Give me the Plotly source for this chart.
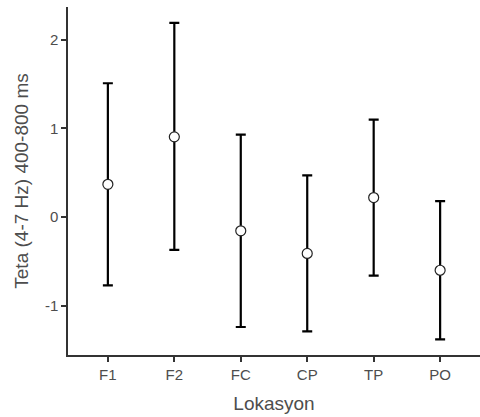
import plotly.graph_objects as go

locations = ["F1", "F2", "FC", "CP", "TP", "PO"]
means = [0.37, 0.905, -0.155, -0.41, 0.22, -0.60]
upper = [1.51, 2.19, 0.93, 0.47, 1.10, 0.18]
lower = [-0.77, -0.37, -1.24, -1.29, -0.66, -1.38]

xpos = list(range(1, len(locations) + 1))
err_plus = [u - m for u, m in zip(upper, means)]
err_minus = [m - l for m, l in zip(means, lower)]

fig = go.Figure()
fig.add_trace(go.Scatter(
    x=xpos, y=means, mode="markers",
    marker=dict(symbol="circle", size=10, color="white",
                line=dict(color="#222222", width=1.2)),
    error_y=dict(type="data", symmetric=False, array=err_plus, arrayminus=err_minus,
                 color="black", thickness=2.2, width=5),
    showlegend=False,
))

font_color = "#4d4d4d"
fig.update_layout(
    width=480, height=417,
    margin=dict(l=68, r=0, t=7, b=62),
    paper_bgcolor="white", plot_bgcolor="white",
    font=dict(family="Liberation Sans, Arial, sans-serif", color=font_color, size=15),
    xaxis=dict(
        range=[0.4, 6.6], tickmode="array", tickvals=xpos, ticktext=locations,
        showline=True, linecolor="#333333", linewidth=1.5,
        ticks="outside", ticklen=5, tickcolor="#333333", tickwidth=1.5,
        showgrid=False, zeroline=False,
        title=dict(text="Lokasyon", font=dict(size=19, color=font_color), standoff=15),
        tickfont=dict(size=15, color=font_color),
    ),
    yaxis=dict(
        range=[-1.556, 2.37], tickmode="array", tickvals=[-1, 0, 1, 2],
        ticktext=["-1", "0", "1", "2"],
        showline=True, linecolor="#333333", linewidth=1.5,
        ticks="outside", ticklen=5, tickcolor="#333333", tickwidth=1.5,
        showgrid=False, zeroline=False,
        title=dict(text="Teta (4-7 Hz) 400-800 ms", font=dict(size=19, color=font_color), standoff=11),
        tickfont=dict(size=15, color=font_color),
    ),
)

fig.write_html("out.html")
